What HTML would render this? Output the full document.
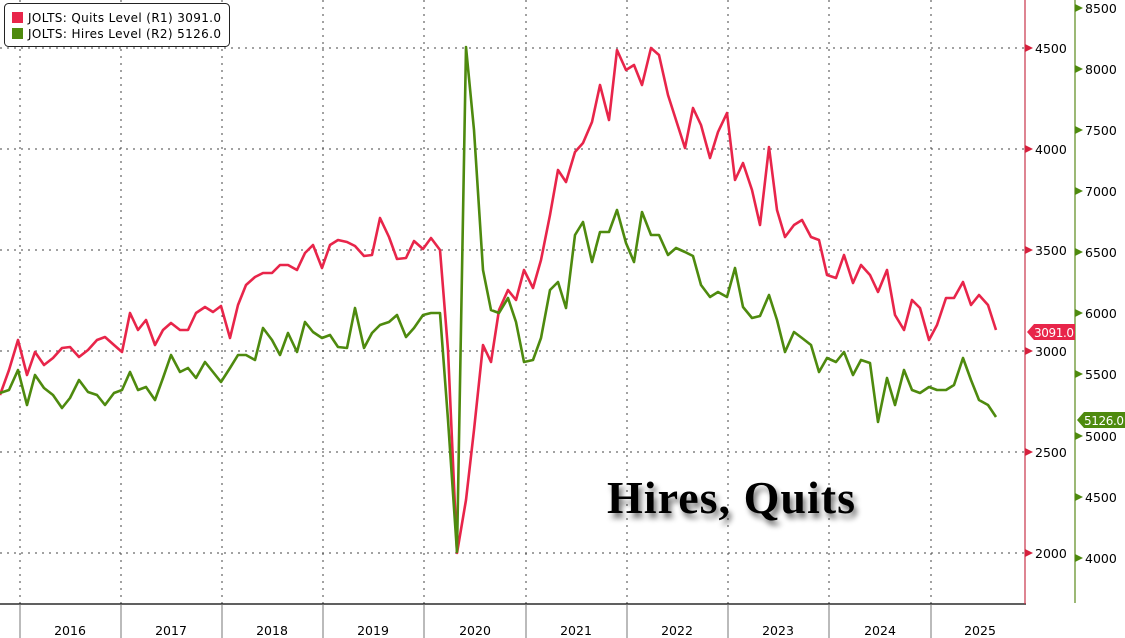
<!DOCTYPE html>
<html><head><meta charset="utf-8"><style>
html,body{margin:0;padding:0;background:#fff;}
svg{display:block;font-family:"DejaVu Sans","Liberation Sans",sans-serif;}
</style></head><body>
<svg width="1125" height="638" viewBox="0 0 1125 638" xmlns="http://www.w3.org/2000/svg">
<defs><filter id="sh" x="-10%" y="-30%" width="130%" height="170%"><feGaussianBlur in="SourceAlpha" stdDeviation="3"/><feOffset dx="3" dy="5"/><feComponentTransfer><feFuncA type="linear" slope="0.55"/></feComponentTransfer><feMerge><feMergeNode/><feMergeNode in="SourceGraphic"/></feMerge></filter></defs>
<g stroke="#444" stroke-width="1" stroke-dasharray="2,5">
<line x1="0" y1="48" x2="1025" y2="48"/><line x1="0" y1="149" x2="1025" y2="149"/><line x1="0" y1="250" x2="1025" y2="250"/><line x1="0" y1="351" x2="1025" y2="351"/><line x1="0" y1="452" x2="1025" y2="452"/><line x1="0" y1="553" x2="1025" y2="553"/>
<line x1="20" y1="0" x2="20" y2="604"/><line x1="121" y1="0" x2="121" y2="604"/><line x1="222" y1="0" x2="222" y2="604"/><line x1="323" y1="0" x2="323" y2="604"/><line x1="424" y1="0" x2="424" y2="604"/><line x1="526" y1="0" x2="526" y2="604"/><line x1="627" y1="0" x2="627" y2="604"/><line x1="728" y1="0" x2="728" y2="604"/><line x1="829" y1="0" x2="829" y2="604"/><line x1="931" y1="0" x2="931" y2="604"/>
</g>
<line x1="0" y1="604" x2="1026" y2="604" stroke="#000" stroke-width="1.2"/>
<g stroke="#777" stroke-width="1">
<line x1="20" y1="604" x2="20" y2="638"/><line x1="121" y1="604" x2="121" y2="638"/><line x1="222" y1="604" x2="222" y2="638"/><line x1="323" y1="604" x2="323" y2="638"/><line x1="424" y1="604" x2="424" y2="638"/><line x1="526" y1="604" x2="526" y2="638"/><line x1="627" y1="604" x2="627" y2="638"/><line x1="728" y1="604" x2="728" y2="638"/><line x1="829" y1="604" x2="829" y2="638"/><line x1="931" y1="604" x2="931" y2="638"/>
</g>
<g font-size="12.5" fill="#000" text-anchor="middle">
<text x="70" y="635">2016</text><text x="171" y="635">2017</text><text x="272" y="635">2018</text><text x="373" y="635">2019</text><text x="475" y="635">2020</text><text x="576" y="635">2021</text><text x="677" y="635">2022</text><text x="778" y="635">2023</text><text x="880" y="635">2024</text><text x="980" y="635">2025</text>
</g>
<line x1="1025" y1="0" x2="1025" y2="604" stroke="#c8344a" stroke-width="1.2"/>
<line x1="1075" y1="0" x2="1075" y2="603" stroke="#5a8a1a" stroke-width="1.2"/>
<g fill="#d6203d">
<polygon points="1025,44 1033,48 1025,52"/><polygon points="1025,145 1033,149 1025,153"/><polygon points="1025,246 1033,250 1025,254"/><polygon points="1025,347 1033,351 1025,355"/><polygon points="1025,448 1033,452 1025,456"/><polygon points="1025,549 1033,553 1025,557"/>
</g>
<g fill="#4e8a0e">
<polygon points="1075,4 1083,8 1075,12"/><polygon points="1075,65 1083,69 1075,73"/><polygon points="1075,126 1083,130 1075,134"/><polygon points="1075,187 1083,191 1075,195"/><polygon points="1075,248 1083,252 1075,256"/><polygon points="1075,309 1083,313 1075,317"/><polygon points="1075,370 1083,374 1075,378"/><polygon points="1075,432 1083,436 1075,440"/><polygon points="1075,493 1083,497 1075,501"/><polygon points="1075,554 1083,558 1075,562"/>
</g>
<g font-size="12.5" fill="#000">
<text x="1035" y="53">4500</text><text x="1035" y="154">4000</text><text x="1035" y="255">3500</text><text x="1035" y="356">3000</text><text x="1035" y="457">2500</text><text x="1035" y="558">2000</text>
<text x="1085" y="13">8500</text><text x="1085" y="74">8000</text><text x="1085" y="135">7500</text><text x="1085" y="196">7000</text><text x="1085" y="257">6500</text><text x="1085" y="318">6000</text><text x="1085" y="379">5500</text><text x="1085" y="441">5000</text><text x="1085" y="502">4500</text><text x="1085" y="563">4000</text>
</g>
<polyline fill="none" stroke="#e8254a" stroke-width="2.6" stroke-linejoin="round" points="0,395 9,370 18,340 27,375 35,352 44,365 53,358 62,348 70,347 79,357 88,350 97,340 105,337 114,345 122,352 130,313 138,330 146,320 155,345 163,330 171,323 180,330 188,330 196,313 205,307 213,312 221,306 230,338 238,305 246,285 255,277 263,273 272,273 280,265 288,265 297,270 305,253 313,245 322,268 330,245 338,240 347,242 355,246 364,256 372,255 380,218 389,237 397,259 406,258 414,241 423,249 431,238 440,250 448,350 457,553 466,500 474,430 483,345 491,362 499,310 508,290 516,300 524,270 533,288 541,260 550,215 558,170 566,182 575,152 583,143 592,122 600,85 609,120 617,50 626,70 634,65 642,85 651,48 659,55 668,95 676,120 685,148 693,108 701,125 710,158 718,132 727,113 735,180 743,163 752,190 760,225 769,147 777,210 785,237 794,225 802,220 811,237 819,240 827,275 836,278 844,255 853,283 861,265 870,275 878,292 887,270 895,315 904,330 912,300 920,308 929,340 937,325 946,298 954,298 963,282 971,305 979,295 988,305 996,330"/>
<polyline fill="none" stroke="#4e8a0e" stroke-width="2.6" stroke-linejoin="round" points="0,393 9,390 18,370 27,405 35,375 44,388 53,395 62,408 70,398 79,380 88,392 97,395 105,405 114,393 122,390 130,372 138,390 146,387 155,400 163,378 171,355 180,372 188,368 196,378 205,362 213,372 221,382 230,368 238,355 246,355 255,360 263,328 272,340 280,355 288,333 297,352 305,322 313,332 322,338 330,335 338,347 347,348 355,308 364,348 372,333 380,325 389,322 397,315 406,337 414,328 423,315 431,313 440,313 448,420 457,552 466,47 474,130 483,270 491,310 499,313 508,298 516,322 524,362 533,360 541,338 550,290 558,282 566,308 575,235 583,222 592,262 600,232 609,232 617,210 626,243 634,262 642,212 651,235 659,235 668,255 676,248 685,252 693,256 701,285 710,297 718,292 727,297 735,268 743,307 752,318 760,316 769,295 777,320 785,352 794,332 802,338 811,345 819,372 827,358 836,362 844,352 853,375 861,360 870,363 878,422 887,378 895,405 904,370 912,390 920,393 929,387 937,390 946,390 954,385 963,358 971,380 979,400 988,405 996,417"/>
<polygon points="1027,332 1034,324 1075,324 1075,340 1034,340" fill="#e8254a"/>
<text x="1034" y="337" font-size="12" fill="#fff" textLength="40">3091.0</text>
<polygon points="1077,420 1084,412 1125,412 1125,428 1084,428" fill="#4e8a0e"/>
<text x="1084" y="425" font-size="12" fill="#fff" textLength="40">5126.0</text>
<rect x="4.5" y="3.5" width="225" height="43" rx="4" fill="#fff" stroke="#222" stroke-width="1"/>
<rect x="12" y="12" width="11" height="11" fill="#e8254a"/>
<rect x="12" y="28" width="11" height="11" fill="#4e8a0e"/>
<g font-size="12" fill="#000"><text x="28" y="22" textLength="193">JOLTS: Quits Level (R1) 3091.0</text><text x="28" y="38" textLength="193">JOLTS: Hires Level (R2) 5126.0</text></g>
<text x="607" y="513" font-family="Liberation Serif,serif" font-weight="bold" font-size="46" fill="#000" filter="url(#sh)" textLength="248">Hires, Quits</text>
</svg>
</body></html>
